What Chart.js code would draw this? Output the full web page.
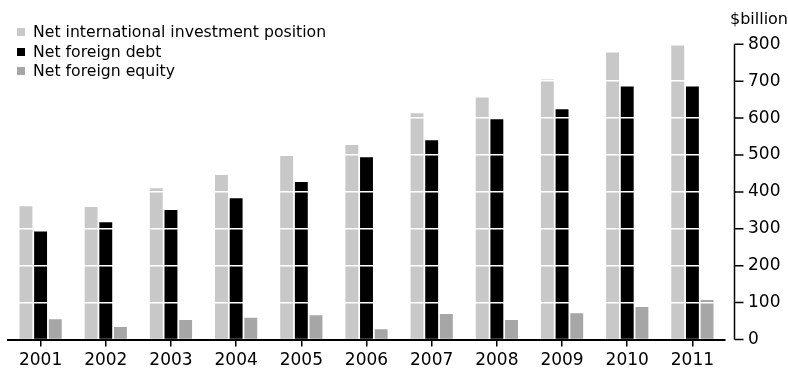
<!DOCTYPE html>
<html>
<head>
<meta charset="utf-8">
<script src="https://cdn.jsdelivr.net/npm/chart.js@4"></script>
<style>
  body { margin: 0; background: #fff; }
  #wrap { position: relative; width: 788px; height: 369px; }
  #legend { position: absolute; left: 17px; top: 22px; font: 15.7px "DejaVu Sans"; color: #000; }
  #legend div { height: 19.7px; line-height: 19.7px; white-space: nowrap; }
  #legend span { display: inline-block; width: 8px; height: 8px; margin-right: 8px; vertical-align: 1px; }
</style>
</head>
<body>
<div id="wrap">
  <canvas id="chart" width="788" height="369"></canvas>
  <div id="legend"></div>
</div>
<script>
const years = ['2001', '2002', '2003', '2004', '2005', '2006', '2007', '2008', '2009', '2010', '2011'];
const niip = [361, 359, 410, 446, 497, 527, 613, 656, 705, 778, 800];
const debt = [293, 318, 351, 383, 427, 494, 540, 597, 624, 686, 686];
const equity = [55, 34, 53, 59, 66, 28, 69, 53, 71, 88, 107];
const yTicks = [0, 100, 200, 300, 400, 500, 600, 700, 800];

const font = { family: 'DejaVu Sans', size: 17 };

// y axis line sits a little right of the plot, with "[" end ticks
const yAxisLine = {
  id: 'yAxisLine',
  afterDraw(chart) {
    const ctx = chart.ctx;
    const y = chart.scales.y;
    const x0 = chart.chartArea.right + 9.5;
    ctx.save();
    ctx.strokeStyle = '#000';
    ctx.lineWidth = 1.5;
    ctx.beginPath();
    ctx.moveTo(x0, y.getPixelForValue(800));
    ctx.lineTo(x0, y.getPixelForValue(0));
    yTicks.forEach(v => {
      const py = y.getPixelForValue(v);
      ctx.moveTo(x0, py);
      ctx.lineTo(x0 + 9, py);
    });
    ctx.stroke();
    ctx.restore();
  }
};

const chart = new Chart(document.getElementById('chart'), {
  type: 'bar',
  data: {
    labels: years,
    datasets: [
      { label: 'Net international investment position', data: niip, backgroundColor: '#c8c8c8' },
      { label: 'Net foreign debt', data: debt, backgroundColor: '#000000' },
      { label: 'Net foreign equity', data: equity, backgroundColor: '#a6a6a6' }
    ]
  },
  options: {
    responsive: false,
    animation: false,
    layout: { padding: { left: 8, right: 0, top: 0, bottom: 0 } },
    datasets: { bar: { barPercentage: 0.88, categoryPercentage: 0.675 } },
    plugins: {
      legend: { display: false },
      tooltip: { enabled: false },
      title: {
        display: true,
        text: '$billion',
        align: 'end',
        color: '#000',
        font: { family: 'DejaVu Sans', size: 16, weight: 'normal' },
        padding: { top: 10, bottom: 0 }
      }
    },
    scales: {
      x: {
        afterFit: s => { s.height = 29.5; },
        grid: { display: true, drawOnChartArea: false, offset: false, tickLength: 7, tickColor: '#000', lineWidth: 1.5 },
        border: { color: '#000', width: 2 },
        ticks: { color: '#000', font: font, padding: 4, maxRotation: 0 }
      },
      y: {
        position: 'right',
        min: 0,
        max: 841,
        afterBuildTicks: s => { s.ticks = yTicks.map(v => ({ value: v })); },
        afterFit: s => { s.width = 63; },
        grid: {
          z: 1,
          drawTicks: true,
          tickLength: 23,
          tickColor: 'rgba(0,0,0,0)',
          lineWidth: 1.5,
          color: c => (c.tick && c.tick.value === 0) ? 'rgba(0,0,0,0)' : '#fff'
        },
        border: { display: false },
        ticks: { color: '#000', font: font, padding: 0 }
      }
    }
  },
  plugins: [yAxisLine]
});

document.getElementById('legend').innerHTML = chart.data.datasets.map(d =>
  `<div><span style="background:${d.backgroundColor}"></span>${d.label}</div>`).join('');
</script>
</body>
</html>
